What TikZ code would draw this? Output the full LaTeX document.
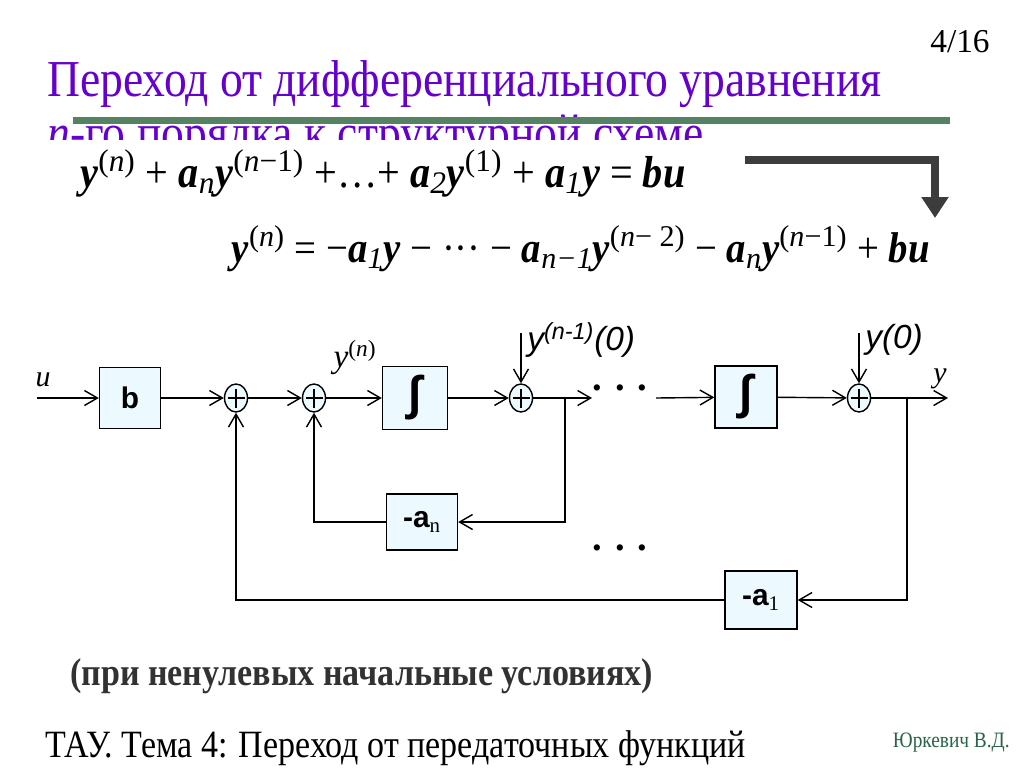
\documentclass[tikz,border=0pt]{standalone}
\usepackage{fontspec}
\setmainfont{Liberation Serif}
\setsansfont{Liberation Sans}
\newfontfamily\titlefont[FakeStretch=0.88]{Liberation Serif}
\newfontfamily\eqfont[FakeStretch=0.9]{Liberation Serif}
\newfontfamily\symfont{Liberation Sans}
\usetikzlibrary{arrows.meta, positioning, shapes.geometric}

\definecolor{titleviolet}{RGB}{102,0,204}
\definecolor{bargreen}{RGB}{86,130,100}
\definecolor{boxblue}{RGB}{236,249,255}
\definecolor{notegrey}{RGB}{50,50,50}
\definecolor{authorgreen}{RGB}{40,100,70}
\definecolor{arrowgrey}{RGB}{60,60,60}

\newcommand{\bi}[1]{\textbf{\textit{#1}}}
\newcommand{\up}[1]{\textsuperscript{\normalfont(#1)}}
\newcommand{\dn}[1]{\textsubscript{\normalfont\itshape #1}}
\newcommand{\intsym}{{\symfont\bfseries\fontsize{27}{28}\selectfont ∫}}

\tikzset{
    block/.style={draw, fill=boxblue, line width=0.8pt, inner sep=0pt,
        font=\sffamily\bfseries\fontsize{17}{20}\selectfont},
    summer/.style={draw, ellipse, fill=boxblue, line width=0.8pt, inner sep=0pt,
        minimum width=0.46cm, minimum height=0.56cm,
        path picture={
            \draw (path picture bounding box.center) ++(-0.17cm,0pt) -- ++(0.34cm,0pt);
            \draw (path picture bounding box.center) ++(0pt,-0.19cm) -- ++(0pt,0.38cm);
        }},
    link/.style={line width=0.8pt, -{Straight Barb[length=0.26cm,width=0.3cm]}},
    lbl/.style={inner sep=0pt},
    dots/.style={inner sep=0pt, font=\bfseries\fontsize{22}{24}\selectfont}
}

\begin{document}
\begin{tikzpicture}[x=0.02cm, y=-0.02cm]
    % 背景
    \fill[white] (0,0) rectangle (1024,768);
    \useasboundingbox (0,0) rectangle (1024,768);

    % 标题
    \node[lbl, anchor=base east, font=\fontsize{19}{22}\selectfont] (page) at (990,52) {4/16};
    \node[lbl, anchor=base west, font=\titlefont\fontsize{29.5}{32}\selectfont, text=titleviolet] (title1) at (47,96) {Переход от дифференциального уравнения};
    \node[lbl, anchor=base west, font=\titlefont\fontsize{29.5}{32}\selectfont, text=titleviolet] (title2) at (47,150) {\textit{n}-го порядка к структурной схеме};
    \fill[bargreen] (73,117) rectangle (950,124);
    \fill[white] (40,140) rectangle (702,200);

    % 方程
    \node[lbl, anchor=base west, font=\eqfont\fontsize{25.5}{28}\selectfont] (eq1) at (80,187)
        {\bi{y}\up{\textit{n}} + \bi{a}\dn{n}\bi{y}\up{\textit{n}−1} +…+ \bi{a}\dn{2}\bi{y}\up{1} + \bi{a}\dn{1}\bi{y} = \bi{bu}};
    \node[lbl, anchor=base east, font=\eqfont\fontsize{24.5}{27}\selectfont] (eq2) at (930,262)
        {\bi{y}\up{\textit{n}} = −\bi{a}\dn{1}\bi{y} − ··· − \bi{a}\dn{n−1}\bi{y}\up{\textit{n}− 2} − \bi{a}\dn{n}\bi{y}\up{\textit{n}−1} + \bi{bu}};
    \coordinate (arrstart) at (745,160);
    \coordinate (arrend) at (935,218);
    \draw[arrowgrey, line width=4pt, -{Triangle[length=0.42cm,width=0.52cm]}] (arrstart) -| (arrend);

    % 结构图
    \coordinate (uin) at (37,398);
    \node[block, minimum width=1.22cm, minimum height=1.22cm] (b) at (130,398) {b};
    \node[summer] (s1) at (236,398) {};
    \node[summer] (s2) at (314,398) {};
    \node[block, minimum width=1.3cm, minimum height=1.26cm] (int1) at (415,398) {\intsym};
    \node[summer] (s3) at (521,398) {};
    \coordinate (br1) at (565,398);
    \coordinate (dotin) at (592,398);
    \node[dots] (dotsup) at (620,388) {.\,\,.\,\,.};
    \coordinate (dotout) at (656,398);
    \node[block, minimum width=1.24cm, minimum height=1.24cm] (int2) at (746,397) {\intsym};
    \node[summer] (s4) at (859,398) {};
    \coordinate (br2) at (907,398);
    \coordinate (yout) at (948,398);
    \node[block, minimum width=1.42cm, minimum height=1.12cm] (an) at (422,522) {-a\textsubscript{\normalfont n}};
    \node[dots] (dotslow) at (620,548) {.\,\,.\,\,.};
    \node[block, minimum width=1.44cm, minimum height=1.16cm] (a1) at (761,600) {-a\textsubscript{\normalfont 1}};
    \coordinate (ic3) at (521,333);
    \coordinate (ic4) at (859,333);

    % 连线
    \draw[link] (uin) -- (b);
    \draw[link] (b) -- (s1);
    \draw[link] (s1) -- (s2);
    \draw[link] (s2) -- (int1);
    \draw[link] (int1) -- (s3);
    \draw[link] (s3) -- (dotin);
    \draw[link] (dotout) -- (int2);
    \draw[link] (int2) -- (s4);
    \draw[link] (s4) -- (yout);
    \draw[link] (ic3) -- (s3);
    \draw[link] (ic4) -- (s4);
    \draw[link] (br1) |- (an);
    \draw[link] (an) -| (s2);
    \draw[link] (br2) |- (a1);
    \draw[link] (a1) -| (s1);

    % 标签
    \node[lbl, font=\itshape\fontsize{17}{18}\selectfont] (ulab) at (43,380) {u};
    \node[lbl, font=\fontsize{19}{20}\selectfont] (ynlab) at (355,357) {\textit{y}\textsuperscript{(\textit{n})}};
    \node[lbl, anchor=west, font=\sffamily\itshape\fontsize{19}{20}\selectfont] (ic3lab) at (527,340) {y\textsuperscript{(n-1)}(0)};
    \node[lbl, anchor=west, font=\sffamily\itshape\fontsize{19}{20}\selectfont] (ic4lab) at (865,340) {y(0)};
    \node[lbl, font=\itshape\fontsize{17}{18}\selectfont] (ylab) at (940,379) {y};

    % 底部文字
    \node[lbl, anchor=base west, font=\titlefont\bfseries\fontsize{22}{24}\selectfont, text=notegrey] (note) at (70,685) {(при ненулевых начальные условиях)};
    \node[lbl, anchor=base west, font=\titlefont\fontsize{22}{24}\selectfont] (footer) at (45,757) {ТАУ. Тема 4: Переход от передаточных функций};
    \node[lbl, anchor=base east, font=\titlefont\fontsize{12.5}{14}\selectfont, text=authorgreen] (author) at (1010,747) {Юркевич В.Д.};
\end{tikzpicture}
\end{document}
